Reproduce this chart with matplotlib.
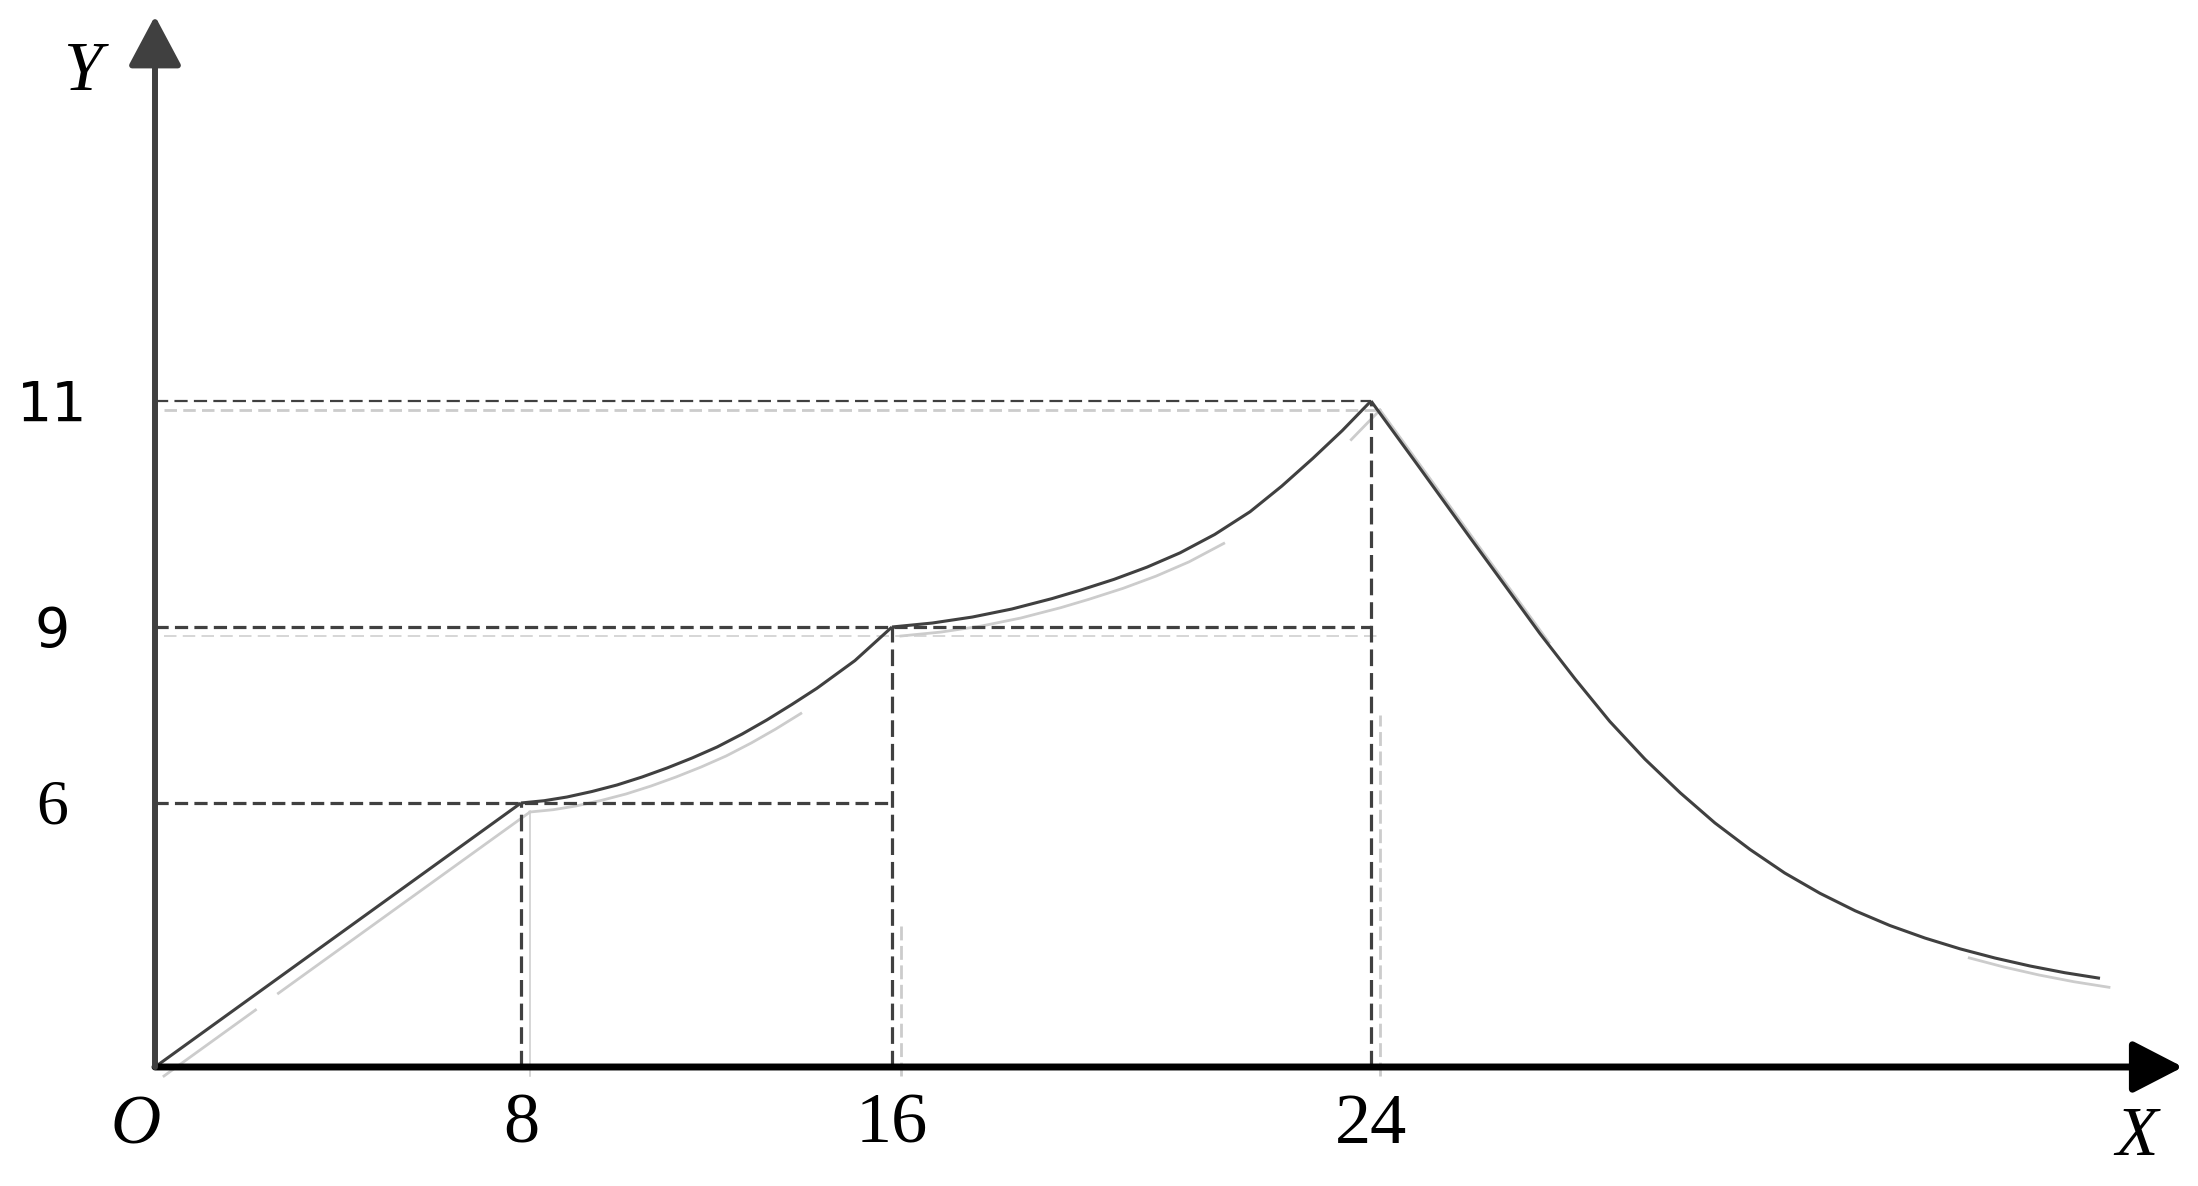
import numpy as np
import matplotlib
matplotlib.use("Agg")
import matplotlib.pyplot as plt
from matplotlib import transforms

# piecewise curve (X, Y units of the drawing)
seg1_x = [0, 8]
seg1_y = [0, 6]
seg2_x = [8, 8.50, 8.99, 9.53, 10.07, 10.61, 11.15, 11.69, 12.23, 12.77,
          13.30, 13.84, 14.38, 15.20, 16]
seg2_y = [6, 6.039, 6.102, 6.196, 6.307, 6.443, 6.597, 6.767, 6.955, 7.176,
          7.415, 7.679, 7.955, 8.427, 9]
seg3_x = [16, 16.67, 17.34, 18.0, 18.67, 19.14, 19.71, 20.26, 20.81, 21.39,
          21.98, 22.51, 23.03, 23.52, 24]
seg3_y = [9, 9.035, 9.088, 9.159, 9.251, 9.325, 9.422, 9.530, 9.656, 9.819,
          10.020, 10.247, 10.493, 10.738, 11]
tail_x = [24, 24.81, 25.63, 26.21, 26.78, 27.36, 27.93, 28.51, 29.09, 29.66,
          30.24, 30.81, 31.39, 31.97, 32.54, 33.12, 33.70, 34.27, 34.85, 35.42, 36.0]
tail_y = [11, 10.402, 9.791, 9.364, 8.889, 8.114, 7.391, 6.747, 6.174, 5.548,
          4.943, 4.409, 3.948, 3.550, 3.216, 2.930, 2.684, 2.477, 2.295, 2.143, 2.016]

# first straight segment of the faint ghost copy (two visible pieces)
ghost1_x = [[0, 2.0], [2.5, 8]]
ghost1_y = [[0, 1.5], [1.88, 6]]

x_ticks = [8, 16, 24]
x_labels = ['8', '16', '24']
y_ticks = [6, 9, 11]
y_labels = ['6', '9', '11']
# dashed guides: horizontal (y, x_end), vertical (x, y_end)
h_guides = [(6, 16), (9, 24), (11, 24)]
v_guides = [(8, 6), (16, 9), (24, 11)]

W, H = 2198, 1186
DARK = '#404040'
GHOST = '#cccccc'

# the drawing is not to scale: map data -> pixels piecewise
XD = np.array([-10, 0, 8, 16, 24, 50])
XP = np.array([-302.5, 155, 521, 892, 1371, 2950.5])
YD = np.array([-10, 0, 6, 9, 11, 30])
YP = np.array([-321, 119, 383, 559, 785, 2932])

fx = lambda v: np.interp(v, XD, XP)
ix = lambda p: np.interp(p, XP, XD)
fy = lambda v: np.interp(v, YD, YP)
iy = lambda p: np.interp(p, YP, YD)

plt.rcParams['lines.scale_dashes'] = False

fig = plt.figure(figsize=(W / 100, H / 100), dpi=100)
ax = fig.add_axes([0, 0, 1, 1])
ax.set_xscale('function', functions=(fx, ix))
ax.set_yscale('function', functions=(fy, iy))
ax.set_xlim(ix(0), ix(W))
ax.set_ylim(iy(0), iy(H))
ax.axis('off')

ghost = transforms.offset_copy(ax.transData, fig=fig, x=9, y=-9, units='dots')


def pick(xs, ys, lo, hi):
    xs, ys = np.asarray(xs), np.asarray(ys)
    m = (xs >= lo) & (xs <= hi)
    return xs[m], ys[m]


# ghost copy (misregistered light grey layer)
for gx, gy in zip(ghost1_x, ghost1_y):
    ax.plot(gx, gy, color=GHOST, lw=2, transform=ghost, zorder=1)
for xs, ys, lo, hi in [(seg2_x, seg2_y, 8, 13.9), (seg3_x, seg3_y, 16, 21.9),
                       (seg3_x, seg3_y, 23.3, 24), (tail_x, tail_y, 24, 26.8),
                       (tail_x, tail_y, 33.6, 36)]:
    gx, gy = pick(xs, ys, lo, hi)
    ax.plot(gx, gy, color=GHOST, lw=2, transform=ghost, zorder=1)
ax.plot([0, 24], [11, 11], color=GHOST, lw=2, dashes=(9, 4.5), transform=ghost, zorder=1)
ax.plot([0, 24], [9, 9], color=GHOST, lw=1.1, dashes=(9, 4.5), transform=ghost, zorder=1)
ax.plot([8, 8], [0, 6], color=GHOST, lw=1.1, transform=ghost, zorder=1)
ax.plot([16, 16], [0, 3.4], color=GHOST, lw=2, dashes=(10, 4), transform=ghost, zorder=1)
ax.plot([24, 24], [0, 7.65], color=GHOST, lw=2, dashes=(10, 4), transform=ghost, zorder=1)

# dashed guide lines
for yv, xe in h_guides:
    lw = 1.6 if yv == 11 else 2.3
    ax.plot([0, xe], [yv, yv], color=DARK, lw=lw, dashes=(9.5, 4.5), zorder=2)
for xv, ye in v_guides:
    ax.plot([xv, xv], [0, ye], color=DARK, lw=2.3, dashes=(12, 5), zorder=2)

# main curve
for xs, ys in [(seg1_x, seg1_y), (seg2_x, seg2_y), (seg3_x, seg3_y), (tail_x, tail_y)]:
    ax.plot(xs, ys, color=DARK, lw=2.2, solid_capstyle='butt', zorder=3)

# axes with arrow heads
ax.annotate('', xy=(ix(2183), 0), xytext=(0, 0), zorder=4,
            arrowprops=dict(arrowstyle='-|>,head_length=31,head_width=16',
                            mutation_scale=1, lw=5, color='black',
                            shrinkA=0, shrinkB=0))
ax.annotate('', xy=(0, iy(H - 16)), xytext=(0, 0), zorder=4,
            arrowprops=dict(arrowstyle='-|>,head_length=31,head_width=16.5',
                            mutation_scale=1, lw=4.3, color=DARK,
                            shrinkA=0, shrinkB=0))

# tick labels
xt = ax.get_xaxis_transform()
for xv, lab in zip(x_ticks, x_labels):
    ax.text(xv, 0.0363, lab, transform=xt, ha='center', va='baseline',
            fontsize=52, family='Liberation Serif')
yt = transforms.offset_copy(ax.get_yaxis_transform(), fig=fig, y=-20, units='dots')
for yv, lab in zip(y_ticks, y_labels):
    fam = 'Liberation Serif' if lab == '6' else 'DejaVu Sans'
    size = 46 if lab == '6' else 40
    ax.text(0.0237, yv, lab, transform=yt, ha='center', va='baseline',
            fontsize=size, family=fam)

# axis names
for s, px, py in [('O', 136, 1143), ('X', 2137, 1155), ('Y', 82, 90)]:
    ax.text(px / W, (H - py) / H, s, transform=ax.transAxes, ha='center',
            va='baseline', fontsize=50, family='Liberation Serif', style='italic')

fig.savefig('out.png', dpi=100)
